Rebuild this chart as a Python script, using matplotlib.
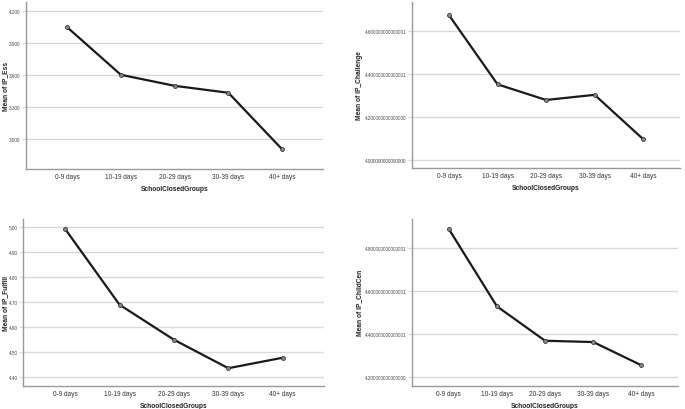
import matplotlib
matplotlib.use("Agg")
import matplotlib.pyplot as plt

plt.rcParams['font.family'] = ['Liberation Sans', 'DejaVu Sans']

groups = ['0-9 days', '10-19 days', '20-29 days', '30-39 days', '40+ days']

ip_ess = [4.045, 3.600, 3.497, 3.432, 2.904]
ip_challenge = [4.675, 4.352, 4.279, 4.303, 4.096]
ip_fulfill = [4.993, 4.690, 4.550, 4.436, 4.478]
ip_childcen = [4.890, 4.530, 4.370, 4.364, 4.256]

ess_ticks = [3.0, 3.3, 3.6, 3.9, 4.2]
ess_labels = ['3.000', '3.300', '3.600', '3.900', '4.200']
chal_ticks = [4.0, 4.2, 4.4, 4.6]
chal_labels = ['4.000000000000000', '4.200000000000000',
               '4.400000000000001', '4.600000000000001']
ful_ticks = [4.4, 4.5, 4.6, 4.7, 4.8, 4.9, 5.0]
ful_labels = ['4.40', '4.50', '4.60', '4.70', '4.80', '4.90', '5.00']
cc_ticks = [4.2, 4.4, 4.6, 4.8]
cc_labels = ['4.200000000000000', '4.400000000000001',
             '4.600000000000001', '4.800000000000001']

fig = plt.figure(figsize=(6.85, 4.1), dpi=100)

# rect, values, ylabel, ticks, tick labels, ylim, ylabel x (axes fraction)
panels = [
    ([0.0375, 0.5854, 0.434, 0.4073], ip_ess, 'Mean of IP_Ess', ess_ticks, ess_labels, (2.72, 4.28), -0.068),
    ([0.601, 0.5878, 0.3917, 0.4049], ip_challenge, 'Mean of IP_Challenge', chal_ticks, chal_labels, (3.961, 4.737), -0.193),
    ([0.034, 0.0568, 0.439, 0.4066], ip_fulfill, 'Mean of IP_Fulfill', ful_ticks, ful_labels, (4.366, 5.033), -0.06),
    ([0.601, 0.0568, 0.3888, 0.4066], ip_childcen, 'Mean of IP_ChildCen', cc_ticks, cc_labels, (4.161, 4.936), -0.194),
]

for rect, vals, ylab, ticks, labels, ylim, labx in panels:
    ax = fig.add_axes(rect)
    x = range(len(groups))
    ax.plot(x, vals, color='#1a1a1a', lw=1.6, marker='o', ms=2.8,
            mfc='#8c8c8c', mec='#333333', mew=0.6, zorder=3)
    ax.set_xlim(-0.77, len(groups) - 1 + 0.76)
    ax.set_ylim(*ylim)
    ax.set_xticks(list(x))
    ax.set_xticklabels(groups, fontsize=4.7, color='#333333')
    ax.set_yticks(ticks)
    ax.set_yticklabels(labels, fontsize=3.3, color='#444444')
    ax.grid(axis='y', color='#d9d9d9', lw=1.0, zorder=0)
    ax.set_axisbelow(True)
    for s in ['top', 'right']:
        ax.spines[s].set_visible(False)
    for s in ['left', 'bottom']:
        ax.spines[s].set_color('#999999')
        ax.spines[s].set_linewidth(1.0)
    ax.tick_params(axis='x', length=0, pad=3)
    ax.tick_params(axis='y', length=3, width=0.8, color='#d9d9d9', pad=1)
    ax.set_xlabel('SchoolClosedGroups', fontsize=4.8, fontweight='bold',
                  color='#222222', va='center')
    ax.xaxis.set_label_coords(0.5, -0.118)
    ax.set_ylabel(ylab, fontsize=4.8, fontweight='bold', color='#222222', va='center')
    ax.yaxis.set_label_coords(labx, 0.5)

fig.savefig('out.png', dpi=100)
